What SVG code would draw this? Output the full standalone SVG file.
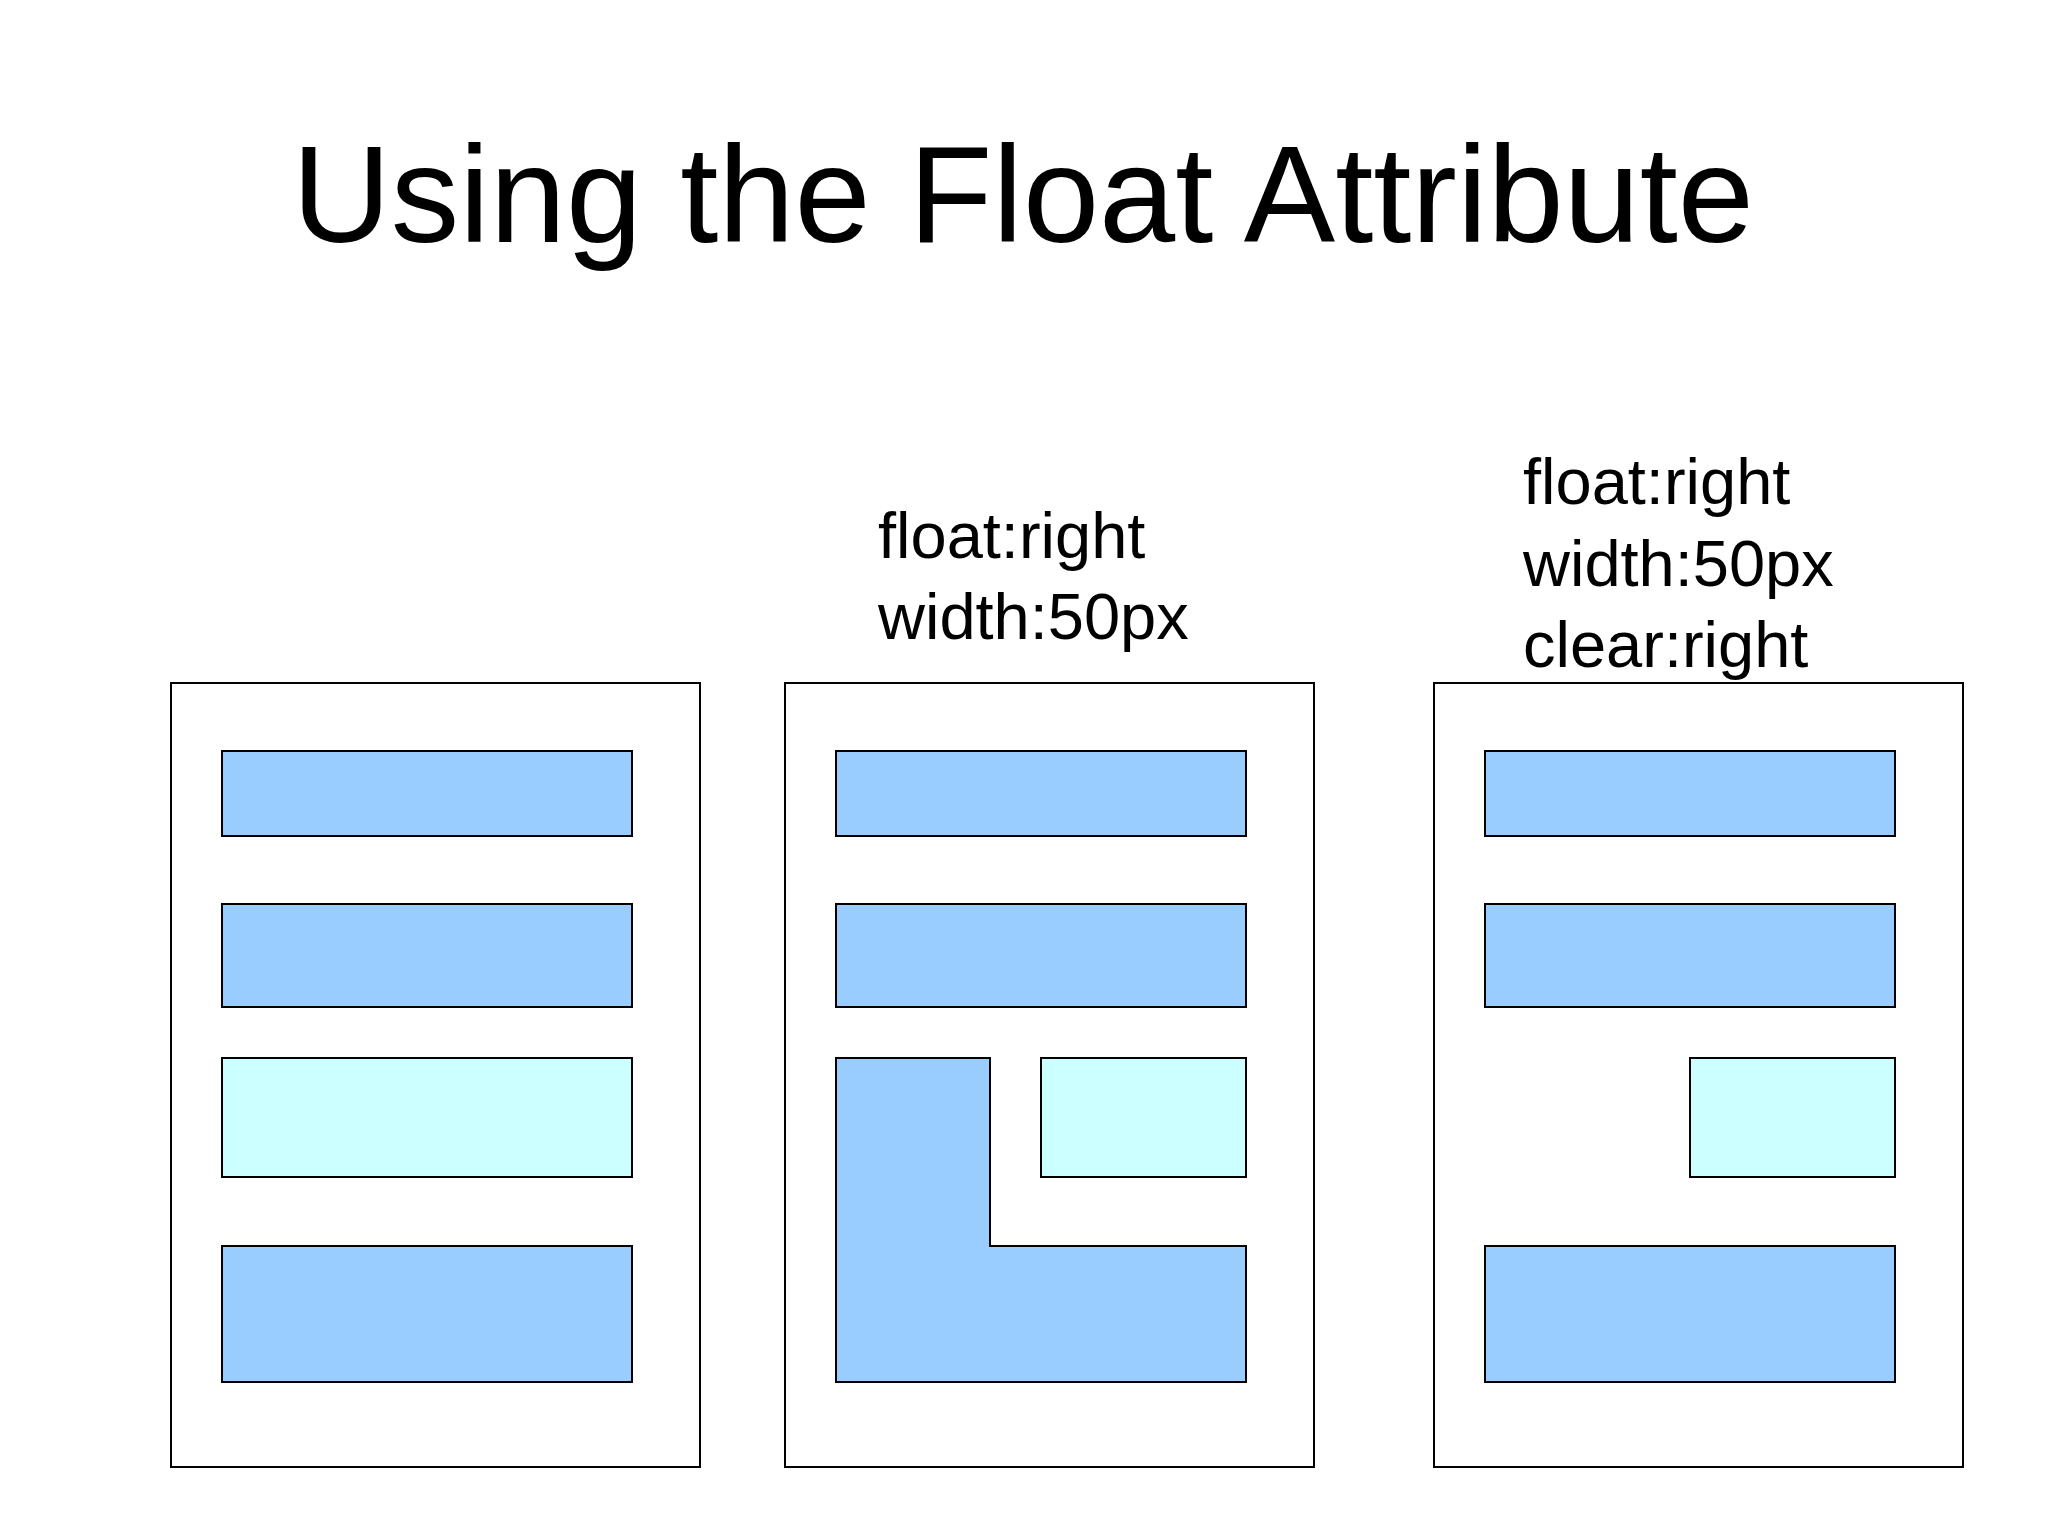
<svg xmlns="http://www.w3.org/2000/svg" width="2048" height="1536" viewBox="0 0 2048 1536">
<style>
.p{fill:#fff;stroke:#000;stroke-width:2}
.b{fill:#99CCFF;stroke:#000;stroke-width:2}
.c{fill:#CCFFFF;stroke:#000;stroke-width:2}
.t{font-family:"Liberation Sans",Arial,sans-serif;font-size:65px;fill:#000}
</style>
<rect width="2048" height="1536" fill="#fff"/>
<text x="1023" y="242" text-anchor="middle" font-family="Liberation Sans, Arial, sans-serif" font-size="137">Using the Float Attribute</text>
<g id="panel1">
<rect class="p" x="171" y="683" width="529" height="784"/>
<rect class="b" x="222" y="751" width="410" height="85"/>
<rect class="b" x="222" y="904" width="410" height="103"/>
<rect class="c" x="222" y="1058" width="410" height="119"/>
<rect class="b" x="222" y="1246" width="410" height="136"/>
</g>
<g id="panel2">
<rect class="p" x="785" y="683" width="529" height="784"/>
<rect class="b" x="836" y="751" width="410" height="85"/>
<rect class="b" x="836" y="904" width="410" height="103"/>
<path class="b" d="M836 1058 H990 V1246 H1246 V1382 H836 Z"/>
<rect class="c" x="1041" y="1058" width="205" height="119"/>
<text class="t" x="878" y="558">float:right</text>
<text class="t" x="878" y="639">width:50px</text>
</g>
<g id="panel3">
<rect class="p" x="1434" y="683" width="529" height="784"/>
<rect class="b" x="1485" y="751" width="410" height="85"/>
<rect class="b" x="1485" y="904" width="410" height="103"/>
<rect class="c" x="1690" y="1058" width="205" height="119"/>
<rect class="b" x="1485" y="1246" width="410" height="136"/>
<text class="t" x="1523" y="504">float:right</text>
<text class="t" x="1523" y="586">width:50px</text>
<text class="t" x="1523" y="667">clear:right</text>
</g>
<g id="connectors"/>
</svg>
